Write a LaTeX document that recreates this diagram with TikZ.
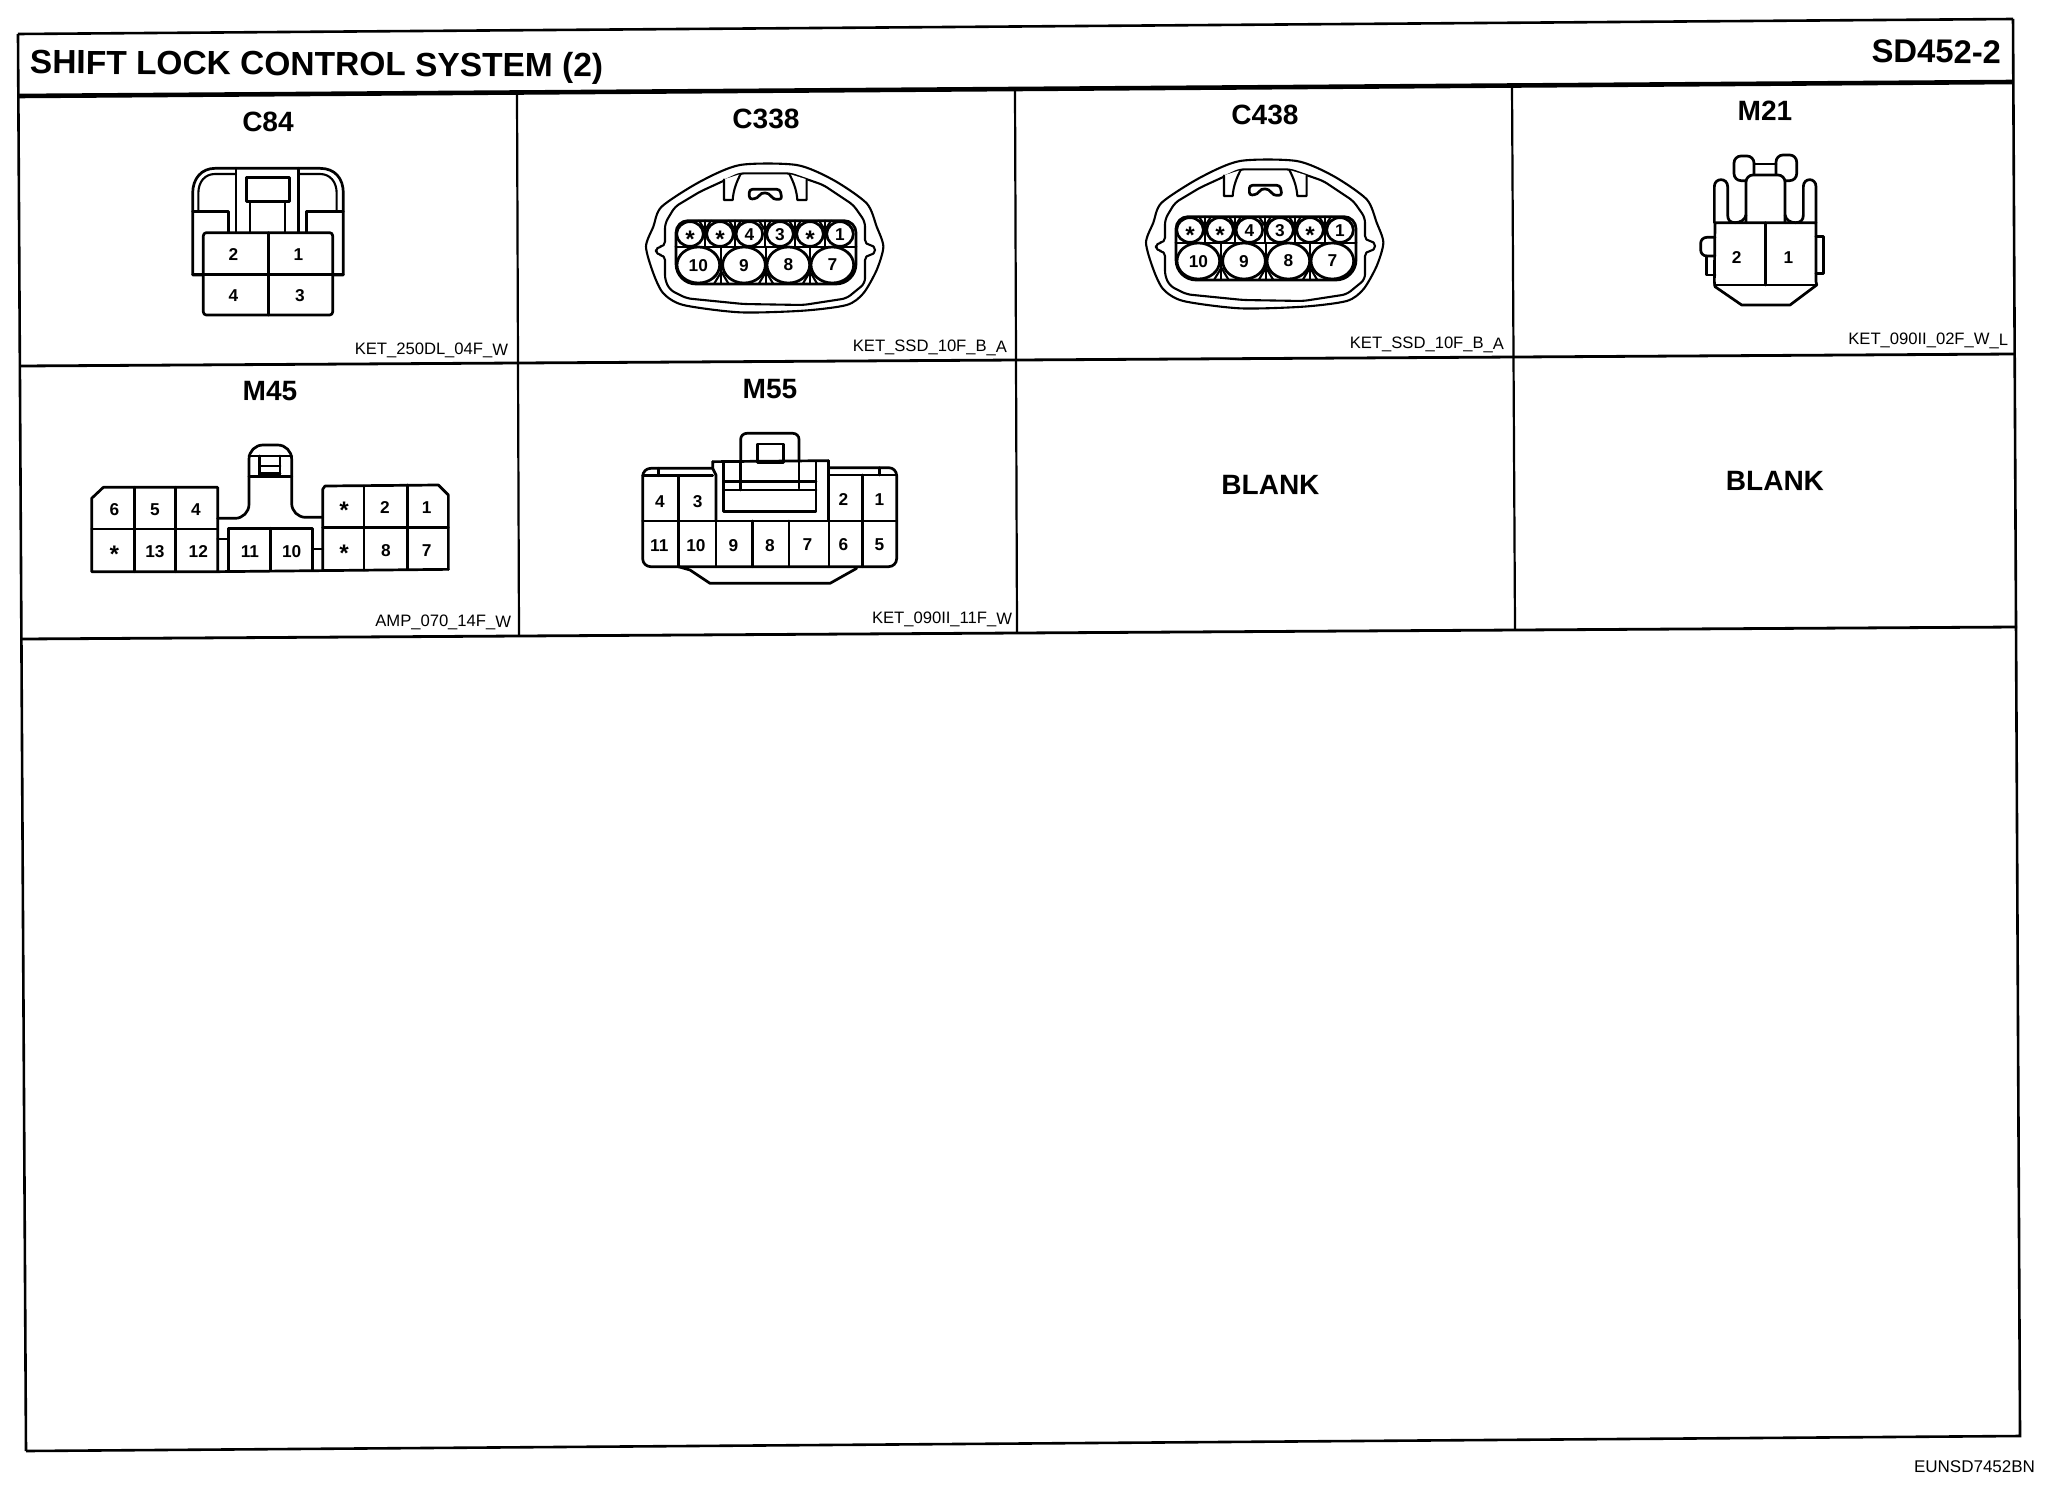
\documentclass[tikz,border=0pt]{standalone}
\usepackage{fontspec}
\setmainfont{Liberation Sans}
\tikzset{
  every node/.style={inner sep=0pt,outer sep=0pt,text=black,rotate=-0.35},
  gridln/.style={line width=1.1pt,black},
  rowln/.style={line width=1.4pt,black},
  titleln/.style={line width=2.3pt,black},
  wire/.style={line width=1.05pt,black,line join=round,line cap=round},
  heavy/.style={line width=1.35pt,black,line join=round,line cap=round},
  pinbig/.style={font=\bfseries\fontsize{8.6}{8.6}\selectfont},
  conname/.style={font=\bfseries\fontsize{14}{14}\selectfont},
  partno/.style={font=\fontsize{8.3}{8.3}\selectfont,anchor=east},
}
\newcommand{\pstar}{\raisebox{-0.42em}{\fontsize{12}{12}\selectfont *}}
\newcommand{\sscon}[3]{%
\begin{scope}[shift={(#2,#3)},x=0.16667pt,y=-0.16667pt]
  \draw[wire] plot[smooth cycle,tension=0.45] coordinates{(360,45)(530,45)(640,90)(740,160)(770,230)(790,290)(770,360)(730,430)(680,465)(550,482)(360,487)(190,465)(130,430)(100,370)(78,290)(100,230)(125,170)(240,95)};
  \draw[wire,rounded corners=2.5pt] (360,70) -- (510,70) -- (610,105) -- (700,165) -- (735,215) -- (735,285) -- (765,285) -- (765,315) -- (735,315) -- (735,400) -- (680,445) -- (550,465) -- (370,462) -- (200,445) -- (150,420) -- (135,390) -- (135,315) -- (108,315) -- (108,290) -- (135,290) -- (135,220) -- (165,170) -- (240,125) -- cycle;
  \draw[wire,fill=white] (312,88) -- (312,150) -- (338,150) .. controls (340,120) and (350,95) .. (362,72);
  \draw[wire,fill=white] (508,72) .. controls (520,95) and (530,120) .. (532,150) -- (560,150) -- (560,88);
  \draw[heavy,rounded corners=1.5pt] (388,148) -- (388,118) -- (480,118) -- (486,148) -- (460,148) .. controls (445,125) and (425,125) .. (412,145) -- cycle;
  \draw[heavy,rounded corners=6pt] (168,290) -- (168,212) -- (708,212) -- (708,290);
  \draw[heavy,rounded corners=10pt] (168,290) -- (168,402) -- (708,402) -- (708,290);
  \draw[wire] (168,290) -- (708,290);
  \foreach \gx in {255,345,435,525,615} \draw[wire] (\gx,212) -- (\gx,290);
  \foreach \gx in {304,438,570} {\draw[wire] (\gx,290) -- (\gx,402); \draw[wire] (\gx-22,402) -- (\gx,365) -- (\gx+22,402);}
  \foreach \gx in {255,345,435,525,615} \draw[wire] (\gx-18,212) -- (\gx,240) -- (\gx+18,212);
  \foreach \px in {210,300,388,480,570,660} \draw[heavy,fill=white] (\px,252) ellipse [x radius=40,y radius=37];
  \foreach \px in {235,372,505,637} \draw[heavy,fill=white] (\px,345) ellipse [x radius=64,y radius=54];
  \node[pinbig] (#1s1) at (210,268) {\pstar};
  \node[pinbig] (#1s2) at (300,268) {\pstar};
  \node[pinbig] (#1p4) at (388,254) {4};
  \node[pinbig] (#1p3) at (480,254) {3};
  \node[pinbig] (#1s3) at (570,268) {\pstar};
  \node[pinbig] (#1p1) at (660,254) {1};
  \node[pinbig] (#1p10) at (235,347) {10};
  \node[pinbig] (#1p9) at (372,347) {9};
  \node[pinbig] (#1p8) at (505,345) {8};
  \node[pinbig] (#1p7) at (637,345) {7};
\end{scope}}
\begin{document}
\begin{tikzpicture}[x=0.5pt,y=-0.5pt]
\useasboundingbox (0,0) rectangle (2050,1504);
\fill[white] (0,0) rectangle (2050,1504);
% frame
\draw[gridln,line width=1.3pt] (18,34) -- (2013,19);
\draw[gridln,line width=1.3pt] (18,34) -- (26,1451);
\draw[gridln,line width=1.3pt] (2013,19) -- (2020,1436) -- (26,1451);
\draw[titleln] (18,96) -- (2013,82);
\draw[rowln] (20,366) -- (2015,354);
\draw[rowln] (21,639) -- (2017,627);
\draw[gridln] (517,94) -- (519,636);
\draw[gridln] (1015,90) -- (1017,632);
\draw[gridln] (1512,86) -- (1515,629);
% titles
\node[anchor=west,font=\bfseries\fontsize{16.75}{17}\selectfont] (title) at (30,65) {SHIFT LOCK CONTROL SYSTEM (2)};
\node[anchor=east,font=\bfseries\fontsize{16.4}{17}\selectfont] (code) at (2001,52) {SD452-2};
\node[conname] (nC84) at (268,122) {C84};
\node[conname] (nC338) at (766,119) {C338};
\node[conname] (nC438) at (1265,115) {C438};
\node[conname] (nM21) at (1765,111) {M21};
\node[conname] (nM45) at (270,391) {M45};
\node[conname] (nM55) at (770,389) {M55};
\node[conname] (blankA) at (1270.5,485) {BLANK};
\node[conname] (blankB) at (1775,481) {BLANK};
\node[partno] (pC84) at (508,351) {KET\_250DL\_04F\_W};
\node[partno] (pC338) at (1007,348) {KET\_SSD\_10F\_B\_A};
\node[partno] (pC438) at (1504,345) {KET\_SSD\_10F\_B\_A};
\node[partno] (pM21) at (2008,341) {KET\_090II\_02F\_W\_L};
\node[partno] (pM45) at (511,623) {AMP\_070\_14F\_W};
\node[partno] (pM55) at (1012,620) {KET\_090II\_11F\_W};
\node[anchor=east,font=\fontsize{8.5}{9}\selectfont] (ref) at (2035,1467) {EUNSD7452BN};
% C84
\begin{scope}[shift={(170,150)},x=0.16667pt,y=-0.16667pt]
  \draw[heavy] (68,375) -- (68,130) .. controls (68,85) and (95,55) .. (135,55) -- (450,55) .. controls (495,55) and (520,85) .. (520,130) -- (520,375) -- cycle;
  \draw[wire] (85,185) -- (85,130) .. controls (85,95) and (105,72) .. (135,72) -- (198,72);
  \draw[wire] (385,72) -- (450,72) .. controls (480,72) and (500,95) .. (500,130) -- (500,185);
  \draw[heavy] (198,55) -- (198,248) (385,55) -- (385,248);
  \draw[heavy] (230,82) rectangle (358,155);
  \draw[heavy] (240,155) -- (240,248) (345,155) -- (345,248);
  \draw[heavy] (68,185) -- (175,185) -- (175,248);
  \draw[heavy] (520,185) -- (410,185) -- (410,248);
  \draw[heavy,fill=white,rounded corners=1.5pt] (100,248) rectangle (488,495);
  \draw[heavy] (295,248) -- (295,495) (68,374) -- (520,374);
  \node[pinbig] (c84p2) at (190,314) {2};
  \node[pinbig] (c84p1) at (385,314) {1};
  \node[pinbig] (c84p4) at (190,437) {4};
  \node[pinbig] (c84p3) at (390,437) {3};
\end{scope}
% C338 and C438
\sscon{cA}{620}{150}
\sscon{cB}{1120}{146}
% M21
\begin{scope}[shift={(1680,140)},x=0.16667pt,y=-0.16667pt]
  \draw[heavy,rounded corners=3.5pt] (162,48) rectangle (222,122);
  \draw[heavy,rounded corners=3.5pt] (288,45) rectangle (350,122);
  \draw[heavy] (222,72) -- (288,72) (222,105) -- (288,105);
  \draw[heavy,fill=white,rounded corners=3.5pt] (198,248) -- (198,105) -- (315,105) -- (315,248);
  \draw[heavy] (103,248) -- (103,140) .. controls (103,112) and (143,112) .. (143,140) -- (143,225) .. controls (143,240) and (150,248) .. (165,248) .. controls (180,248) and (195,240) .. (198,225);
  \draw[heavy] (408,248) -- (408,140) .. controls (408,112) and (370,112) .. (370,140) -- (370,225) .. controls (370,240) and (362,248) .. (347,248) .. controls (330,248) and (318,240) .. (315,225);
  \draw[heavy,rounded corners=3pt] (105,348) -- (62,348) -- (62,292) -- (105,292);
  \draw[heavy] (80,348) -- (80,405) -- (105,405);
  \draw[heavy] (408,290) -- (430,290) -- (430,400) -- (408,400);
  \draw[heavy] (105,248) -- (408,248) -- (408,425) -- (410,435) -- (330,495) -- (185,495) -- (105,440) -- (103,425) -- cycle;
  \draw[heavy] (257,248) -- (257,435) (103,435) -- (410,435);
  \node[pinbig] (m21p2) at (170,352) {2};
  \node[pinbig] (m21p1) at (325,352) {1};
\end{scope}
% M45
\begin{scope}[shift={(80,430)},x=0.16667pt,y=-0.16667pt]
  \draw[heavy] (35,425) -- (35,205) -- (70,172) -- (413,172) -- (413,425) -- cycle;
  \draw[heavy] (35,297) -- (413,297) (163,172) -- (163,425) (287,172) -- (287,425);
  \draw[heavy] (413,425) -- (1105,418);
  \draw[heavy,rounded corners=7pt] (413,265) -- (507,265) -- (507,45) -- (635,45) -- (635,262) -- (728,262);
  \draw[heavy] (507,140) -- (635,140) (507,78) -- (635,78);
  \draw[heavy] (538,78) -- (538,138) (600,78) -- (600,138) (540,108) -- (600,108) (540,130) -- (600,130);
  \draw[heavy] (445,420) -- (445,295) -- (697,295) -- (697,420) (572,295) -- (572,420);
  \draw[heavy] (413,327) -- (445,327) (697,357) -- (728,357);
  \draw[heavy] (728,420) -- (728,178) -- (735,168) -- (1075,165) -- (1105,195) -- (1105,418);
  \draw[heavy] (728,293) -- (1105,293) (852,168) -- (852,420) (982,165) -- (982,418);
  \node[pinbig] (m45p6) at (103,240) {6};
  \node[pinbig] (m45p5) at (225,240) {5};
  \node[pinbig] (m45p4) at (348,240) {4};
  \node[pinbig] (m45s1) at (103,372) {\pstar};
  \node[pinbig] (m45p13) at (225,365) {13};
  \node[pinbig] (m45p12) at (355,365) {12};
  \node[pinbig] (m45p11) at (510,365) {11};
  \node[pinbig] (m45p10) at (635,365) {10};
  \node[pinbig] (m45s2) at (792,240) {\pstar};
  \node[pinbig] (m45p2) at (915,234) {2};
  \node[pinbig] (m45p1) at (1040,234) {1};
  \node[pinbig] (m45s3) at (792,370) {\pstar};
  \node[pinbig] (m45p8) at (918,362) {8};
  \node[pinbig] (m45p7) at (1040,362) {7};
\end{scope}
% M55
\begin{scope}[shift={(630,420)},x=0.16667pt,y=-0.16667pt]
  \draw[heavy,rounded corners=3pt] (332,125) -- (332,40) -- (507,40) -- (507,125);
  \draw[heavy] (382,72) rectangle (460,128);
  \draw[heavy] (248,125) -- (595,122);
  \draw[heavy] (248,125) -- (248,145) -- (258,165) -- (258,303);
  \draw[heavy] (595,122) -- (595,303);
  \draw[heavy] (280,128) -- (280,275) -- (558,275) -- (558,126);
  \draw[heavy] (280,185) -- (558,185) (280,210) -- (558,210);
  \draw[heavy] (332,125) -- (332,210) (507,125) -- (507,205);
  \draw[heavy,rounded corners=4pt] (248,145) -- (38,145) -- (38,440) -- (800,440) -- (800,143) -- (595,143);
  \draw[heavy] (38,167) -- (248,167) (595,165) -- (800,165);
  \draw[heavy] (85,145) -- (85,167) (748,143) -- (748,165);
  \draw[heavy] (38,303) -- (800,303);
  \draw[heavy] (145,167) -- (145,440) (258,303) -- (258,440) (368,303) -- (368,440) (477,303) -- (477,440) (597,303) -- (597,440) (697,165) -- (697,440);
  \draw[heavy] (145,440) -- (180,450) -- (240,490) -- (600,490) -- (680,445);
  \foreach \n/\x/\y in {4/90/245,3/203/245,2/640/240,1/748/240,11/88/378,10/198/378,9/310/378,8/420/378,7/532/375,6/640/375,5/748/375}
    \node[pinbig] (m55p\n) at (\x,\y) {\n};
\end{scope}
\end{tikzpicture}
\end{document}
